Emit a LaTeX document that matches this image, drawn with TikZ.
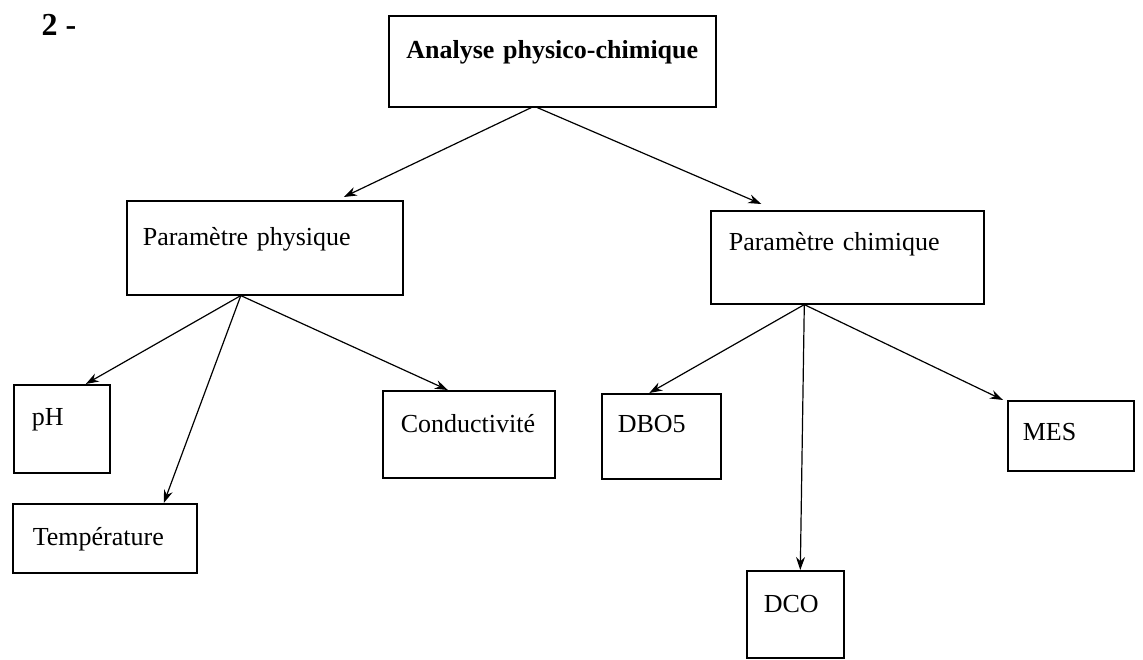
\documentclass[tikz,border=0pt]{standalone}
\usepackage{fontspec}
\setmainfont{Liberation Serif}
\usetikzlibrary{arrows.meta}

\tikzset{
  box/.style={draw, line width=1.6pt, anchor=north west, align=left,
    text height=17pt, font=\fontsize{26}{30}\selectfont},
  link/.style={line width=1.2pt, -{Stealth[length=13pt,width=9pt]}}
}

\begin{document}
\begin{tikzpicture}[x=1pt, y=-1pt]
\useasboundingbox (0,0) rectangle (1143,660);
% Number
\node[anchor=base west, font=\fontsize{32}{36}\selectfont\bfseries] (num) at (38,36) {2 -};
% Boxes
\node[box, align=center, text width=307pt, inner xsep=10pt, inner ysep=26pt, text depth=22pt,
  font=\fontsize{26}{30}\selectfont\bfseries] (ana) at (388,15) {Analyse physico-chimique};
\node[box, text width=244pt, inner xsep=16pt, inner ysep=28pt, text depth=21pt] (phys) at (126,200) {Paramètre physique};
\node[box, text width=237pt, inner xsep=18pt, inner ysep=23pt, text depth=30pt] (chim) at (710,210) {Paramètre chimique};
\node[box, text width=60pt, inner xsep=18pt, inner ysep=24pt, text depth=23pt] (ph) at (13,384) {pH};
\node[box, text width=144pt, inner xsep=20pt, inner ysep=25pt, text depth=2pt] (temp) at (12,503) {Température};
\node[box, text width=136pt, inner xsep=18pt, inner ysep=25pt, text depth=20pt] (cond) at (382,390) {Conductivité};
\node[box, text width=87pt, inner xsep=16pt, inner ysep=22pt, text depth=24pt] (dbo) at (601,393) {DBO5};
\node[box, text width=63pt, inner xsep=17pt, inner ysep=25pt, text depth=20pt] (dco) at (746,570) {DCO};
\node[box, text width=96pt, inner xsep=15pt, inner ysep=23pt, text depth=7pt] (mes) at (1007,400) {MES};
% Arrows
\draw[link] ([xshift=-21pt]ana.south) -- ([xshift=79pt, yshift=3pt]phys.north);
\draw[link] ([xshift=-15pt]ana.south) -- ([xshift=-86pt, yshift=6pt]chim.north);
\draw[link] ([xshift=-24pt]phys.south) -- ([xshift=24pt]ph.north);
\draw[link] ([xshift=-24pt]phys.south) -- ([xshift=59pt]temp.north);
\draw[link] ([xshift=-24pt]phys.south) -- ([xshift=-21pt]cond.north);
\draw[link] ([xshift=-43pt]chim.south) -- ([xshift=-12pt]dbo.north);
\draw[link] ([xshift=-43pt]chim.south) -- ([xshift=5pt]dco.north);
\draw[link] ([xshift=-43pt]chim.south) -- ([xshift=-4pt]mes.north west);
\end{tikzpicture}
\end{document}
